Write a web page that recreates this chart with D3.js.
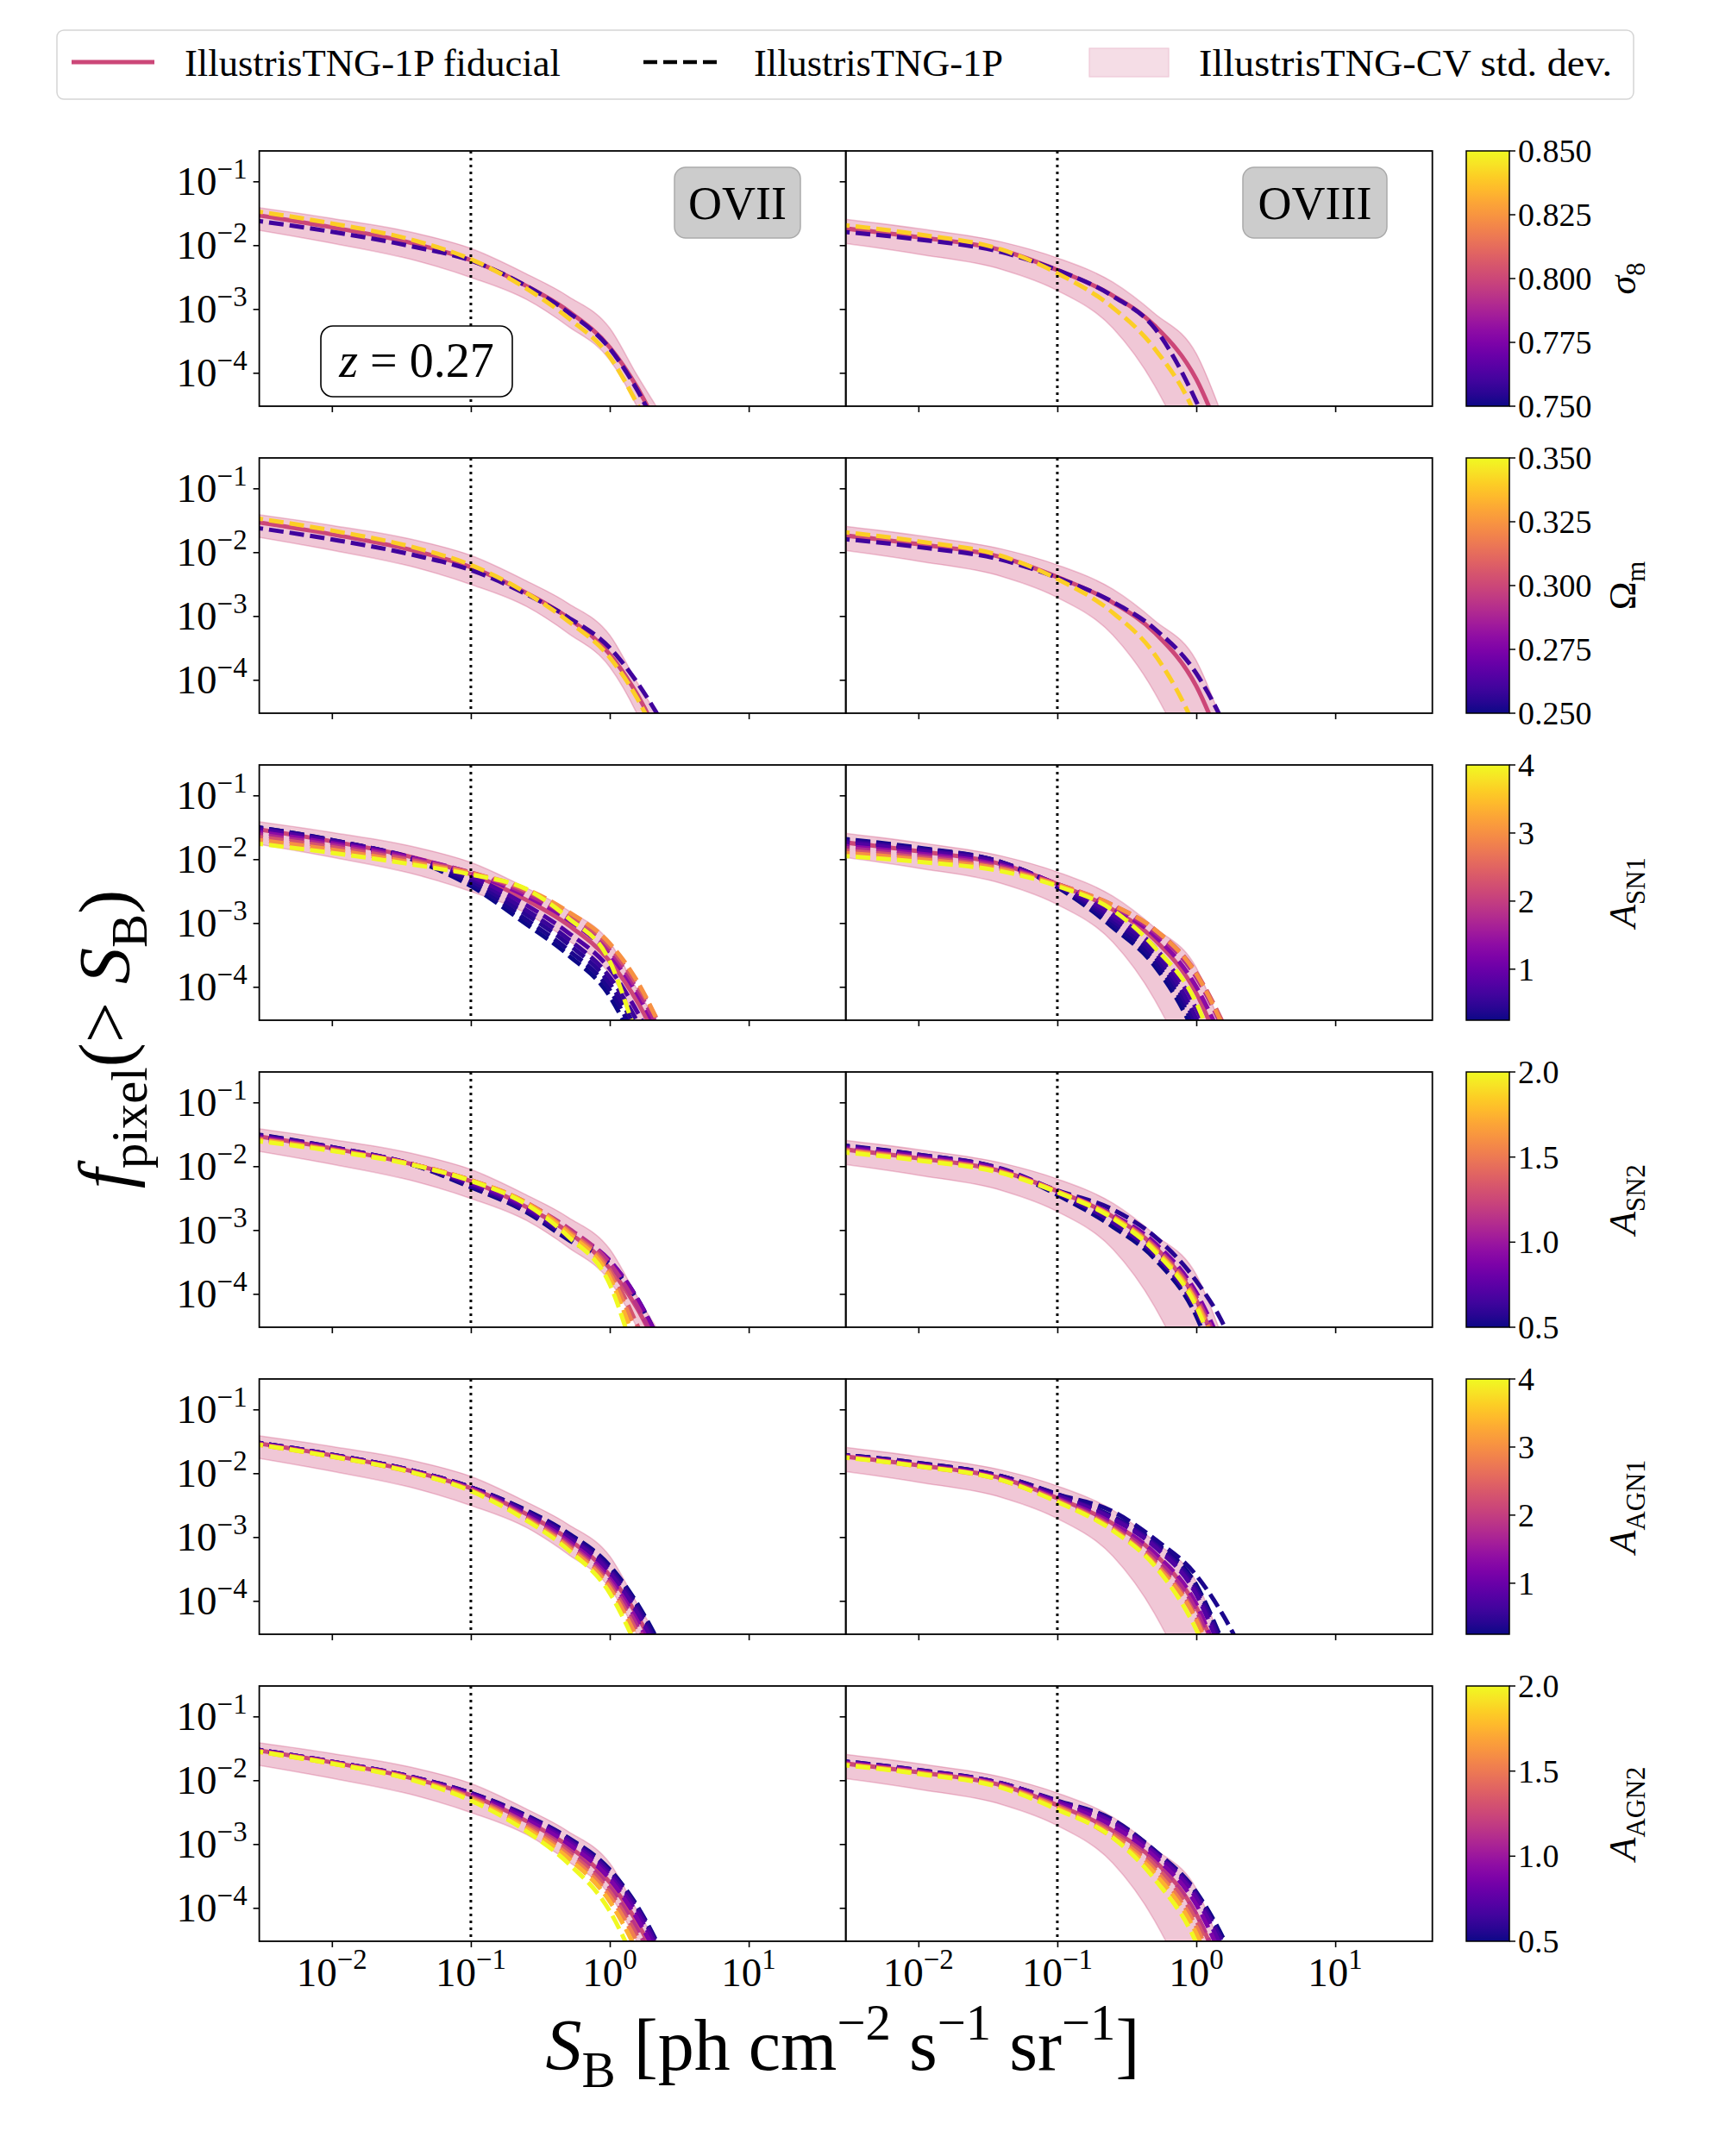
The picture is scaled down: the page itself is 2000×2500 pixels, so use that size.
<!DOCTYPE html>
<html><head><meta charset="utf-8">
<script src="https://cdn.jsdelivr.net/npm/d3@7"></script>
<style>
body{margin:0;background:#fff}
svg{display:block}
text{font-family:"Liberation Serif","Times New Roman","DejaVu Serif",serif;fill:#000}
</style>
</head><body>
<svg id="c" width="2000" height="2500"></svg>
<script>
// ---------------- DATA (log10 values) ----------------
const LOG_S = [-2.6, -2, -1.4, -1, -0.6, -0.3, 0, 0.2, 0.4];           // log10 S_B grid
const xTicks = [1e-2, 1e-1, 1, 10];
const xTickExp = ["−2", "−1", "0", "1"];
const yTicks = [1e-1, 1e-2, 1e-3, 1e-4];
const yTickExp = ["−1", "−2", "−3", "−4"];
const ions = ["OVII", "OVIII"];

// fiducial + CV band, log10 f_pixel
const fidOVII     = [-1.51, -1.72, -1.98, -2.235, -2.64, -3.03, -3.6, -4.24, -5.1];
const bandHiOVII  = [-1.39, -1.58, -1.81, -2.05, -2.45, -2.8, -3.3, -4.05, -4.75];
const bandLoOVII  = [-1.74, -1.97, -2.24, -2.505, -2.85, -3.27, -3.8, -4.55, -5.6];
const fidOVIII    = [-1.72, -1.875, -2.08, -2.39, -2.79, -3.26, -4.1, -5.1, -6.2];
const bandHiOVIII = [-1.575, -1.74, -1.95, -2.2, -2.58, -3.07, -3.7, -4.75, -6.0];
const bandLoOVIII = [-1.95, -2.14, -2.38, -2.71, -3.3, -4.2, -5.6, -7, -8.5];

// parameter names, colour-bar ranges and ticks
const paramLabels = [
  [{t:"σ",it:1},{t:"8",sub:1}],
  [{t:"Ω"},{t:"m",sub:1}],
  [{t:"A",it:1},{t:"SN1",sub:1}],
  [{t:"A",it:1},{t:"SN2",sub:1}],
  [{t:"A",it:1},{t:"AGN1",sub:1}],
  [{t:"A",it:1},{t:"AGN2",sub:1}]
];
const cbDomains = [[0.75,0.85],[0.25,0.35],[0.25,4],[0.5,2],[0.25,4],[0.5,2]];
const cbTicks = [
  [0.75,0.775,0.8,0.825,0.85],
  [0.25,0.275,0.3,0.325,0.35],
  [1,2,3,4],
  [0.5,1.0,1.5,2.0],
  [1,2,3,4],
  [0.5,1.0,1.5,2.0]
];
const cbTickLabels = [
  ["0.750","0.775","0.800","0.825","0.850"],
  ["0.250","0.275","0.300","0.325","0.350"],
  ["1","2","3","4"],
  ["0.5","1.0","1.5","2.0"],
  ["1","2","3","4"],
  ["0.5","1.0","1.5","2.0"]
];

// parameter values of the dashed IllustrisTNG-1P runs
const valsSigma8 = [0.76, 0.84];
const valsOmegaM = [0.26, 0.34];
const valsASN1  = [0.25, 0.33, 0.44, 0.57, 0.76, 1.32, 1.74, 2.3, 3.03, 4.0];
const valsASN2  = [0.5, 0.57, 0.66, 0.76, 0.87, 1.15, 1.32, 1.52, 1.74, 2.0];
const valsAAGN1 = [0.25, 0.33, 0.44, 0.57, 0.76, 1.32, 1.74, 2.3, 3.03, 4.0];
const valsAAGN2 = [0.5, 0.57, 0.66, 0.76, 0.87, 1.15, 1.32, 1.52, 1.74, 2.0];

// dashed curves (log10 f_pixel on LOG_S grid), one row per parameter value
const sigma8OVII = [
  [-1.60,-1.79,-2.03,-2.24,-2.64,-3.05,-3.62,-4.28,-5.15],
  [-1.45,-1.66,-1.93,-2.22,-2.68,-3.14,-3.75,-4.5,-5.4]];
const sigma8OVIII = [
  [-1.78,-1.91,-2.11,-2.39,-2.8,-3.3,-4.45,-5.5,-6.5],
  [-1.67,-1.83,-2.07,-2.44,-2.98,-3.62,-4.7,-6,-7]];
const omegaOVII = [
  [-1.60,-1.80,-2.05,-2.28,-2.66,-3.02,-3.5,-4.05,-4.75],
  [-1.45,-1.66,-1.93,-2.2,-2.64,-3.08,-3.65,-4.3,-5.2]];
const omegaOVIII = [
  [-1.78,-1.92,-2.12,-2.40,-2.78,-3.2,-3.9,-4.7,-5.8],
  [-1.67,-1.83,-2.06,-2.42,-2.95,-3.6,-4.8,-6,-7]];
const asn1OVII = [
  [-1.48,-1.70,-2.02,-2.42,-3.02,-3.5,-4.15,-5.0,-6.0],
  [-1.48,-1.70,-2.01,-2.38,-2.95,-3.42,-4.05,-4.85,-5.8],
  [-1.49,-1.71,-2.0,-2.34,-2.87,-3.33,-3.95,-4.7,-5.6],
  [-1.50,-1.71,-1.99,-2.30,-2.8,-3.25,-3.85,-4.55,-5.4],
  [-1.51,-1.72,-1.99,-2.27,-2.72,-3.15,-3.72,-4.4,-5.25],
  [-1.55,-1.75,-1.99,-2.22,-2.58,-2.95,-3.5,-4.12,-4.95],
  [-1.59,-1.78,-2.01,-2.21,-2.54,-2.9,-3.43,-4.05,-4.85],
  [-1.63,-1.81,-2.03,-2.21,-2.5,-2.85,-3.37,-3.98,-4.75],
  [-1.68,-1.85,-2.06,-2.22,-2.47,-2.82,-3.32,-3.92,-4.8],
  [-1.74,-1.9,-2.09,-2.24,-2.47,-2.92,-3.6,-4.8,-6.0]];
const asn1OVIII = [
  [-1.67,-1.82,-2.05,-2.44,-3.07,-3.67,-4.8,-6,-7],
  [-1.68,-1.83,-2.05,-2.43,-3.02,-3.6,-4.7,-5.9,-7],
  [-1.69,-1.84,-2.05,-2.42,-2.97,-3.52,-4.6,-5.8,-7],
  [-1.71,-1.85,-2.06,-2.41,-2.92,-3.45,-4.5,-5.6,-7],
  [-1.73,-1.87,-2.07,-2.40,-2.87,-3.38,-4.35,-5.4,-6.6],
  [-1.78,-1.91,-2.10,-2.39,-2.77,-3.2,-4.0,-4.9,-6.0],
  [-1.81,-1.94,-2.12,-2.39,-2.74,-3.14,-3.85,-4.7,-5.8],
  [-1.85,-1.97,-2.14,-2.39,-2.72,-3.1,-3.78,-4.6,-5.6],
  [-1.89,-2.0,-2.16,-2.40,-2.72,-3.1,-3.8,-4.65,-5.7],
  [-1.94,-2.04,-2.19,-2.42,-2.8,-3.38,-4.25,-5.4,-6.5]];
const asn2OVII = [
  [-1.48,-1.70,-1.99,-2.33,-2.72,-3.15,-3.55,-4.1,-4.95],
  [-1.49,-1.70,-1.99,-2.31,-2.70,-3.12,-3.53,-4.1,-4.95],
  [-1.50,-1.71,-1.98,-2.28,-2.67,-3.08,-3.5,-4.08,-4.95],
  [-1.51,-1.71,-1.98,-2.26,-2.64,-3.05,-3.48,-4.08,-4.95],
  [-1.52,-1.72,-1.98,-2.24,-2.62,-3.02,-3.48,-4.1,-4.98],
  [-1.54,-1.73,-1.98,-2.22,-2.58,-2.97,-3.52,-4.2,-5.1],
  [-1.55,-1.74,-1.98,-2.22,-2.57,-3.0,-3.62,-4.5,-5.5],
  [-1.56,-1.75,-1.98,-2.22,-2.57,-3.02,-3.68,-4.65,-5.8],
  [-1.57,-1.75,-1.98,-2.22,-2.58,-3.05,-3.75,-4.85,-6.0],
  [-1.59,-1.76,-1.99,-2.23,-2.6,-3.1,-3.85,-5.1,-6.3]];
const asn2OVIII = [
  [-1.66,-1.82,-2.05,-2.45,-2.95,-3.45,-4.35,-5.5,-6.6],
  [-1.67,-1.82,-2.04,-2.38,-2.68,-3.1,-3.8,-4.5,-5.6],
  [-1.68,-1.83,-2.05,-2.42,-2.88,-3.38,-4.25,-5.3,-6.4],
  [-1.69,-1.84,-2.06,-2.40,-2.8,-3.28,-4.1,-5.1,-6.2],
  [-1.70,-1.85,-2.06,-2.39,-2.76,-3.2,-3.98,-4.9,-6.0],
  [-1.72,-1.87,-2.08,-2.39,-2.78,-3.25,-4.05,-5.0,-6.1],
  [-1.73,-1.88,-2.09,-2.39,-2.79,-3.27,-4.1,-5.1,-6.2],
  [-1.74,-1.89,-2.09,-2.40,-2.80,-3.3,-4.12,-5.1,-6.2],
  [-1.75,-1.90,-2.10,-2.40,-2.80,-3.3,-4.15,-5.2,-6.3],
  [-1.77,-1.91,-2.11,-2.41,-2.82,-3.33,-4.2,-5.3,-6.4]];
const aagn1OVII = [
  [-1.5,-1.71,-1.97,-2.22,-2.58,-2.94,-3.45,-4.05,-4.85],
  [-1.5,-1.71,-1.97,-2.22,-2.59,-2.95,-3.47,-4.08,-4.9],
  [-1.5,-1.71,-1.97,-2.22,-2.6,-2.97,-3.5,-4.1,-4.95],
  [-1.51,-1.71,-1.97,-2.23,-2.61,-2.99,-3.52,-4.15,-5.0],
  [-1.51,-1.72,-1.98,-2.23,-2.62,-3.01,-3.56,-4.2,-5.05],
  [-1.51,-1.72,-1.98,-2.24,-2.66,-3.06,-3.65,-4.32,-5.2],
  [-1.52,-1.73,-1.99,-2.25,-2.68,-3.1,-3.7,-4.4,-5.3],
  [-1.52,-1.73,-1.99,-2.26,-2.7,-3.13,-3.75,-4.5,-5.45],
  [-1.53,-1.74,-2.0,-2.27,-2.72,-3.16,-3.8,-4.6,-5.6],
  [-1.53,-1.74,-2.0,-2.28,-2.74,-3.2,-3.88,-4.75,-5.8]];
const aagn1OVIII = [
  [-1.70,-1.84,-2.05,-2.33,-2.68,-3.08,-3.75,-4.7,-5.8],
  [-1.70,-1.84,-2.05,-2.33,-2.60,-3.03,-3.6,-4.25,-5.1],
  [-1.70,-1.85,-2.05,-2.34,-2.69,-3.1,-3.8,-4.75,-5.9],
  [-1.71,-1.85,-2.06,-2.35,-2.70,-3.12,-3.85,-4.8,-5.9],
  [-1.71,-1.86,-2.07,-2.36,-2.72,-3.15,-3.9,-4.9,-6.0],
  [-1.72,-1.87,-2.08,-2.39,-2.79,-3.25,-4.05,-5.1,-6.2],
  [-1.72,-1.88,-2.09,-2.41,-2.83,-3.32,-4.15,-5.2,-6.3],
  [-1.73,-1.88,-2.10,-2.42,-2.86,-3.38,-4.25,-5.3,-6.4],
  [-1.73,-1.89,-2.11,-2.44,-2.88,-3.42,-4.3,-5.4,-6.5],
  [-1.74,-1.89,-2.11,-2.45,-2.9,-3.45,-4.45,-5.5,-6.6]];
const aagn2OVII = [
  [-1.5,-1.71,-1.96,-2.2,-2.55,-2.9,-3.4,-3.98,-4.8],
  [-1.5,-1.71,-1.96,-2.2,-2.56,-2.91,-3.42,-4.0,-4.82],
  [-1.5,-1.71,-1.96,-2.21,-2.57,-2.93,-3.45,-4.03,-4.85],
  [-1.51,-1.71,-1.97,-2.22,-2.59,-2.96,-3.5,-4.1,-4.9],
  [-1.51,-1.72,-1.97,-2.23,-2.62,-3.0,-3.55,-4.18,-5.0],
  [-1.52,-1.72,-1.98,-2.25,-2.67,-3.08,-3.68,-4.35,-5.2],
  [-1.52,-1.73,-1.99,-2.27,-2.7,-3.12,-3.75,-4.45,-5.35],
  [-1.52,-1.73,-1.99,-2.28,-2.73,-3.17,-3.82,-4.55,-5.5],
  [-1.53,-1.74,-2.0,-2.3,-2.76,-3.22,-3.9,-4.7,-5.7],
  [-1.53,-1.74,-2.01,-2.32,-2.8,-3.3,-4.05,-4.95,-6.0]];
const aagn2OVIII = [
  [-1.69,-1.84,-2.05,-2.32,-2.62,-3.1,-3.75,-4.5,-5.5],
  [-1.69,-1.84,-2.05,-2.33,-2.63,-3.11,-3.77,-4.55,-5.5],
  [-1.70,-1.85,-2.05,-2.33,-2.65,-3.13,-3.8,-4.6,-5.6],
  [-1.70,-1.85,-2.06,-2.34,-2.67,-3.15,-3.85,-4.7,-5.7],
  [-1.71,-1.86,-2.07,-2.36,-2.72,-3.2,-3.95,-4.85,-5.9],
  [-1.72,-1.87,-2.08,-2.39,-2.8,-3.28,-4.1,-5.05,-6.1],
  [-1.73,-1.88,-2.09,-2.41,-2.83,-3.33,-4.2,-5.2,-6.3],
  [-1.74,-1.89,-2.10,-2.42,-2.86,-3.4,-4.3,-5.3,-6.4],
  [-1.74,-1.89,-2.11,-2.44,-2.9,-3.46,-4.4,-5.5,-6.6],
  [-1.75,-1.90,-2.12,-2.46,-2.9,-3.55,-4.55,-5.8,-7]];

// assembled tables
const rowVals = [valsSigma8, valsOmegaM, valsASN1, valsASN2, valsAAGN1, valsAAGN2];
const rowCurves = [
  [sigma8OVII, sigma8OVIII], [omegaOVII, omegaOVIII], [asn1OVII, asn1OVIII],
  [asn2OVII, asn2OVIII], [aagn1OVII, aagn1OVIII], [aagn2OVII, aagn2OVIII]];
const fidByIon = [fidOVII, fidOVIII];
const bandByIon = [[bandLoOVII, bandHiOVII], [bandLoOVIII, bandHiOVIII]];

// ---------------- LAYOUT ----------------
const svg = d3.select("#c");
const W = 680.1, H = 296;
const panelLeft = [300.6, 980.6];
const top0 = 175, pitch = 356;
const FID = "#cc4778";
const x = d3.scaleLog().domain([3e-3, 50]).range([0, W]);
const y = d3.scaleLog().domain([3e-5, 0.3]).range([H, 0]);

function rich(sel, parts, fs){
  let shift = 0;
  parts.forEach(p => {
    const ts = sel.append("tspan").text(p.t);
    let target = 0, size = fs;
    if (p.sub){ target = fs*0.24; size = fs*0.7; }
    if (p.sup){ target = -fs*0.42; size = fs*0.7; }
    ts.attr("font-size", size);
    if (p.it) ts.attr("font-style","italic");
    const dy = target - shift;
    if (dy !== 0) ts.attr("dy", dy);
    shift = target;
  });
}

const line = d3.line().x(d => x(Math.pow(10,d[0]))).y(d => y(Math.pow(10,d[1]))).curve(d3.curveMonotoneX);
const area = d3.area().x(d => x(Math.pow(10,d[0])))
  .y0(d => y(Math.pow(10,d[1]))).y1(d => y(Math.pow(10,d[2]))).curve(d3.curveMonotoneX);

const defs = svg.append("defs");
defs.append("clipPath").attr("id","pclip").append("rect")
  .attr("x",0).attr("y",0).attr("width",W).attr("height",H);

// colour-bar gradient (plasma)
const grad = defs.append("linearGradient").attr("id","plasmaGrad")
  .attr("x1",0).attr("y1",1).attr("x2",0).attr("y2",0);
d3.range(0,1.0001,0.05).forEach(t => grad.append("stop").attr("offset",t).attr("stop-color",d3.interpolatePlasma(t)));

for (let r = 0; r < 6; r++){
  const top = top0 + r*pitch;
  const cscale = d3.scaleLinear().domain(cbDomains[r]).range([0,1]).clamp(true);
  for (let c = 0; c < 2; c++){
    const g = svg.append("g").attr("transform",`translate(${panelLeft[c]},${top})`);
    const plot = g.append("g").attr("clip-path","url(#pclip)");
    const [lo, hi] = bandByIon[c];
    const bandData = LOG_S.map((s,i) => [s, lo[i], hi[i]]);
    plot.append("path").attr("d", area(bandData))
      .attr("fill", FID).attr("fill-opacity",0.3)
      .attr("stroke", FID).attr("stroke-opacity",0.3).attr("stroke-width",1.5);
    plot.append("path").attr("d", line(LOG_S.map((s,i)=>[s, fidByIon[c][i]])))
      .attr("fill","none").attr("stroke",FID).attr("stroke-width",5);
    rowCurves[r][c].forEach((cv, k) => {
      plot.append("path").attr("d", line(LOG_S.map((s,i)=>[s, cv[i]])))
        .attr("fill","none").attr("stroke", d3.interpolatePlasma(cscale(rowVals[r][k])))
        .attr("stroke-width",5).attr("stroke-dasharray","17,7");
    });
    // dotted threshold line
    g.append("line").attr("x1",x(0.1)).attr("x2",x(0.1)).attr("y1",0).attr("y2",H)
      .attr("stroke","#000").attr("stroke-width",3).attr("stroke-dasharray","3,5");
    // frame
    g.append("rect").attr("x",0).attr("y",0).attr("width",W).attr("height",H)
      .attr("fill","none").attr("stroke","#000").attr("stroke-width",1.8);
    // axes ticks
    const ax = g.append("g").attr("transform",`translate(0,${H})`)
      .call(d3.axisBottom(x).tickValues(xTicks).tickSize(7).tickFormat(""));
    const ay = g.append("g").call(d3.axisLeft(y).tickValues(yTicks).tickSize(7).tickFormat(""));
    [ax, ay].forEach(a => { a.select(".domain").remove(); a.selectAll("line").attr("stroke","#000").attr("stroke-width",1.6); });
    if (c === 0){
      yTicks.forEach((v,i) => {
        const t = g.append("text").attr("x",-14).attr("y",y(v)+16).attr("text-anchor","end");
        rich(t, [{t:"10"},{t:yTickExp[i],sup:1}], 47);
      });
    }
    if (r === 5){
      xTicks.forEach((v,i) => {
        const t = g.append("text").attr("x",x(v)).attr("y",H+52).attr("text-anchor","middle");
        rich(t, [{t:"10"},{t:xTickExp[i],sup:1}], 47);
      });
    }
    if (r === 0){
      const bx = c === 0 ? [481.4, 146] : [460.4, 167];
      g.append("rect").attr("x",bx[0]).attr("y",19).attr("width",bx[1]).attr("height",82)
        .attr("rx",13).attr("fill","#cccccc").attr("stroke","#aaaaaa").attr("stroke-width",1.5);
      g.append("text").attr("x",bx[0]+bx[1]/2).attr("y",79).attr("text-anchor","middle")
        .attr("font-size",54).text(ions[c]);
      if (c === 0){
        g.append("rect").attr("x",71.4).attr("y",203).attr("width",222).attr("height",82)
          .attr("rx",14).attr("fill","#fff").attr("stroke","#000").attr("stroke-width",1.6);
        const t = g.append("text").attr("x",182.4).attr("y",262).attr("text-anchor","middle");
        rich(t, [{t:"z",it:1},{t:" = 0.27"}], 56);
      }
    }
  }
  // colour bar
  const cb = svg.append("g").attr("transform",`translate(1700,${top})`);
  cb.append("rect").attr("width",50).attr("height",H).attr("fill","url(#plasmaGrad)")
    .attr("stroke","#000").attr("stroke-width",1.5);
  const cy = d3.scaleLinear().domain(cbDomains[r]).range([H,0]);
  cbTicks[r].forEach((v,i) => {
    cb.append("line").attr("x1",50).attr("x2",57).attr("y1",cy(v)).attr("y2",cy(v))
      .attr("stroke","#000").attr("stroke-width",1.5);
    cb.append("text").attr("x",60).attr("y",cy(v)+13).attr("font-size",38).text(cbTickLabels[r][i]);
  });
  const lab = cb.append("text").attr("transform",`translate(196,${H/2}) rotate(-90)`).attr("text-anchor","middle");
  rich(lab, paramLabels[r], 44);
}

// axis labels
const yl = svg.append("text").attr("transform","translate(150,1205) rotate(-90)").attr("text-anchor","middle");
rich(yl, [{t:"f",it:1},{t:"pixel",sub:1},{t:"(> "},{t:"S",it:1},{t:"B",sub:1},{t:")"}], 84);
const xl = svg.append("text").attr("x",977).attr("y",2400).attr("text-anchor","middle");
rich(xl, [{t:"S",it:1},{t:"B",sub:1},{t:" [ph cm"},{t:"−2",sup:1},{t:" s"},{t:"−1",sup:1},{t:" sr"},{t:"−1",sup:1},{t:"]"}], 84);

// legend
const lg = svg.append("g");
lg.append("rect").attr("x",66).attr("y",35).attr("width",1828).attr("height",80).attr("rx",8)
  .attr("fill","#fff").attr("stroke","#d5d5d5").attr("stroke-width",1.5);
lg.append("line").attr("x1",83).attr("x2",179).attr("y1",72).attr("y2",72).attr("stroke",FID).attr("stroke-width",5);
lg.append("text").attr("x",214).attr("y",88).attr("font-size",44).attr("textLength",436).attr("lengthAdjust","spacingAndGlyphs").text("IllustrisTNG-1P fiducial");
lg.append("line").attr("x1",746).attr("x2",835).attr("y1",72).attr("y2",72).attr("stroke","#000").attr("stroke-width",4.5).attr("stroke-dasharray","16,7");
lg.append("text").attr("x",874).attr("y",88).attr("font-size",44).attr("textLength",289).attr("lengthAdjust","spacingAndGlyphs").text("IllustrisTNG-1P");
lg.append("rect").attr("x",1263).attr("y",56).attr("width",92).attr("height",33).attr("fill","#f5dde6").attr("stroke","#efc9d7").attr("stroke-width",1.2);
lg.append("text").attr("x",1390).attr("y",88).attr("font-size",44).attr("textLength",479).attr("lengthAdjust","spacingAndGlyphs").text("IllustrisTNG-CV std. dev.");
</script>
</body></html>
